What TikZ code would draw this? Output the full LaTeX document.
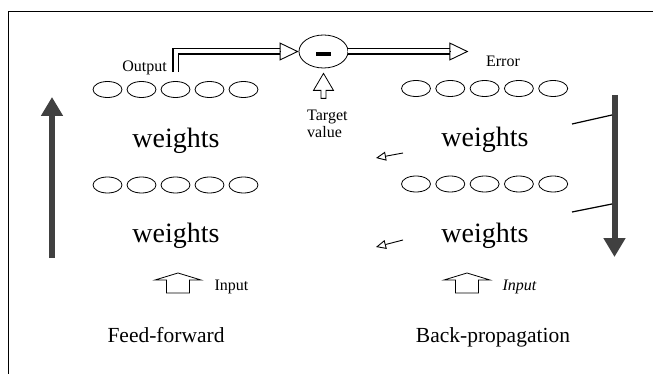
\documentclass[tikz,border=0pt]{standalone}
\usepackage{fontspec}
\setmainfont{Liberation Serif}
\usetikzlibrary{positioning,shapes.geometric,arrows.meta}

\begin{document}
\begin{tikzpicture}[x=1pt,y=-1pt]
    \tikzset{neuron/.style={ellipse, draw=black, line width=0.8pt, minimum width=29pt, minimum height=16pt, inner sep=0pt}}
    \tikzset{hollowline/.style={draw=black, line width=6.6pt, postaction={draw=white, line width=4pt}}}
    \tikzset{hollowhead/.style={line width=0.9pt, -{Triangle[open,length=19pt,width=18pt]}}}
    \tikzset{bigarrow/.style={line width=6pt, black!75, -{Triangle[length=19pt,width=21pt]}}}
    \tikzset{backarrow/.style={line width=0.9pt, -{Triangle[open,length=10pt,width=9pt]}}}
    \tikzset{inarrow/.pic={\draw[line width=0.8pt] (0,0) -- (23,7) -- (11.5,7) -- (11.5,20) -- (-11.5,20) -- (-11.5,7) -- (-23,7) -- cycle;}}
    \tikzset{tgtarrow/.pic={\draw[line width=0.8pt] (0,0) -- (10,17) -- (2.5,17) -- (2.5,25) -- (-2.5,25) -- (-2.5,17) -- (-10,17) -- cycle;}}
\useasboundingbox (0,0) rectangle (653,374);

% Rahmen
\draw[line width=0.7pt] (8,374) -- (8,11) -- (653,11);

% Feed-forward (links)
\foreach \i in {1,...,5} {
    \node[neuron] (ffout\i) at ({73.5+34*\i},89.5) {};
}
\foreach \i in {1,...,5} {
    \node[neuron] (ffhid\i) at ({73.5+34*\i},185) {};
}
\node[font=\fontsize{28}{30}\selectfont] (ffwA) at (176,141) {weights};
\node[font=\fontsize{28}{30}\selectfont] (ffwB) at (176,236) {weights};
\node[font=\fontsize{16}{18}\selectfont, anchor=base] (outlabel) at (144.5,72) {Output};
\node[font=\fontsize{16}{18}\selectfont, anchor=base west] (ffin) at (211,290) {Input};
\pic at (178,273) {inarrow};
\node[font=\fontsize{21.5}{24}\selectfont, anchor=base] (fflabel) at (166,342) {Feed-forward};

% Back-propagation (rechts)
\foreach \i in {1,...,5} {
    \node[neuron] (bpout\i) at ({381.7+34.3*\i},88.5) {};
}
\foreach \i in {1,...,5} {
    \node[neuron] (bphid\i) at ({381.7+34.3*\i},184) {};
}
\node[font=\fontsize{28}{30}\selectfont] (bpwA) at (485,140) {weights};
\node[font=\fontsize{28}{30}\selectfont] (bpwB) at (485,236) {weights};
\node[font=\fontsize{16}{18}\selectfont, anchor=base] (errlabel) at (503,67) {Error};
\node[font=\fontsize{16}{18}\selectfont\itshape, anchor=base west] (bpin) at (499,290) {Input};
\pic at (467,273) {inarrow};
\node[font=\fontsize{21.5}{24}\selectfont, anchor=base] (bplabel) at (493,342) {Back-propagation};

% Differenz
\node[ellipse, draw=black, line width=0.8pt, minimum width=49pt, minimum height=33pt, inner sep=0pt] (minus) at (323.5,51.5) {};
\node[inner sep=0pt] (minusbar) at ([yshift=-2.5pt]minus.center) {\rule{15pt}{4pt}};
\pic at ([yshift=-5pt]minus.south) {tgtarrow};
\node[font=\fontsize{16}{17}\selectfont, align=left, anchor=north west, inner sep=0pt] (tgtlabel) at (307,110) {Target\\value};

% Output -> Differenz
\coordinate (outfoot) at ([yshift=9pt]ffout3.north);
\draw[hollowline] (outfoot) |- ([xshift=-19pt]minus.west);
\draw[hollowhead] ([xshift=-19pt]minus.west) -- (minus.west);

% Differenz -> Error
\coordinate (errtip) at ([xshift=120pt]minus.east);
\draw[hollowline] (minus.east) -- ([xshift=-18pt]errtip);
\draw[hollowhead] ([xshift=-18pt]errtip) -- (errtip);

% grosse Pfeile
\coordinate (ffbot) at (52,258);
\coordinate (fftop) at (52,97);
\draw[bigarrow] (ffbot) -- (fftop);
\coordinate (bptop) at (614.5,95);
\coordinate (bpbot) at (614.5,257);
\draw[bigarrow] (bptop) -- (bpbot);

% Rueckfuehrung
\coordinate (markA) at (572,124);
\coordinate (hitA) at (612,115);
\draw[line width=1.2pt] (markA) -- (hitA);
\coordinate (markB) at (572,212);
\coordinate (hitB) at (612,204);
\draw[line width=1.2pt] (markB) -- (hitB);
\coordinate (backA) at (403,153);
\coordinate (backAend) at (376,158);
\draw[backarrow] (backA) -- (backAend);
\coordinate (backB) at (403,240);
\coordinate (backBend) at (376,247);
\draw[backarrow] (backB) -- (backBend);

\end{tikzpicture}
\end{document}
